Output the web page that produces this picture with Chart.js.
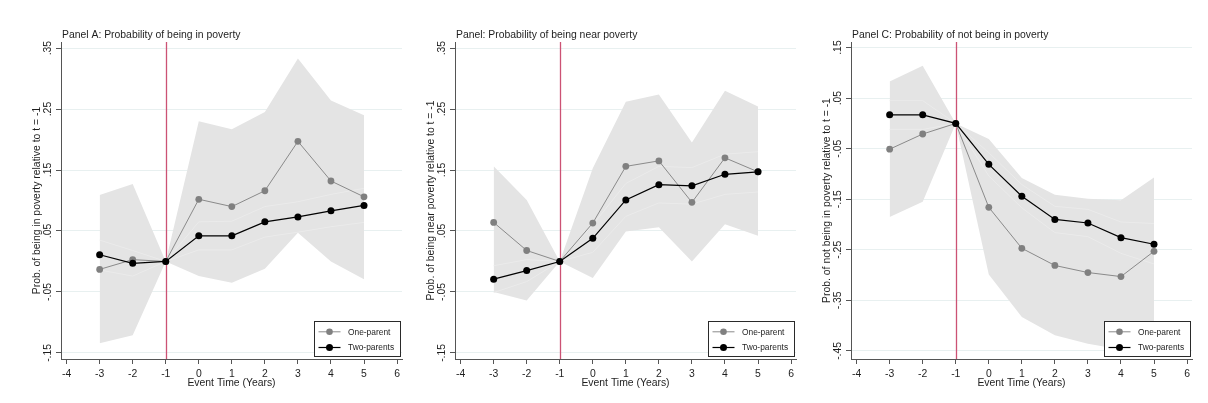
<!DOCTYPE html>
<html>
<head>
<meta charset="utf-8">
<script src="https://cdn.jsdelivr.net/npm/chart.js@4/dist/chart.umd.min.js"></script>
<style>
html, body { margin: 0; padding: 0; background: #fff; }
#wrap { position: relative; width: 1208px; height: 403px; overflow: hidden; background: #fff; }
#wrap canvas { position: absolute; top: 0; }
</style>
</head>
<body>
<div id="wrap">
  <canvas id="pA" width="405" height="403" style="left:1px"></canvas>
  <canvas id="pB" width="405" height="403" style="left:395px"></canvas>
  <canvas id="pC" width="405" height="403" style="left:791px"></canvas>
</div>
<script>
// Event time (years relative to the separation) and axis ticks
const eventTime = [-3, -2, -1, 0, 1, 2, 3, 4, 5];
const xTicks = [-4, -3, -2, -1, 0, 1, 2, 3, 4, 5, 6];
const refEvent = -1;
const seriesNames = ['One-parent', 'Two-parents'];

// Panel A: probability of being in poverty
const onePoorA = [-0.013, 0.003, 0, 0.102, 0.090, 0.116, 0.197, 0.132, 0.106];
const twoPoorA = [0.011, -0.003, 0, 0.042, 0.042, 0.065, 0.073, 0.083, 0.092];
const oneHiA = [0.109, 0.127, 0, 0.230, 0.217, 0.245, 0.333, 0.264, 0.240];
const oneLoA = [-0.134, -0.121, 0, -0.024, -0.035, -0.012, 0.047, 0.000, -0.029];
const twoHiA = [0.035, 0.018, 0, 0.065, 0.066, 0.090, 0.098, 0.110, 0.120];
const twoLoA = [-0.014, -0.024, 0, 0.019, 0.019, 0.040, 0.048, 0.057, 0.064];
const yTicksA = [-0.15, -0.05, 0.05, 0.15, 0.25, 0.35];

// Panel B: probability of being near poverty
const oneNearB = [0.064, 0.018, 0, 0.063, 0.156, 0.165, 0.097, 0.170, 0.147];
const twoNearB = [-0.029, -0.015, 0, 0.038, 0.101, 0.126, 0.124, 0.143, 0.147];
const oneHiB = [0.156, 0.101, 0, 0.153, 0.262, 0.274, 0.195, 0.280, 0.254];
const oneLoB = [-0.050, -0.064, 0, -0.027, 0.049, 0.056, 0.000, 0.061, 0.042];
const twoHiB = [-0.007, 0.003, 0, 0.060, 0.128, 0.156, 0.154, 0.176, 0.180];
const twoLoB = [-0.051, -0.033, 0, 0.015, 0.074, 0.096, 0.094, 0.110, 0.114];
const yTicksB = [-0.15, -0.05, 0.05, 0.15, 0.25, 0.35];

// Panel C: probability of not being in poverty
const oneNotC = [-0.051, -0.021, 0, -0.166, -0.247, -0.281, -0.295, -0.303, -0.253];
const twoNotC = [0.017, 0.017, 0, -0.081, -0.144, -0.190, -0.197, -0.226, -0.239];
const oneHiC = [0.083, 0.114, 0, -0.031, -0.108, -0.141, -0.149, -0.152, -0.107];
const oneLoC = [-0.185, -0.155, 0, -0.299, -0.383, -0.419, -0.436, -0.447, -0.450];
const twoHiC = [0.045, 0.045, 0, -0.058, -0.121, -0.164, -0.170, -0.195, -0.198];
const twoLoC = [-0.012, -0.012, 0, -0.104, -0.167, -0.216, -0.224, -0.257, -0.278];
const yTicksC = [-0.45, -0.35, -0.25, -0.15, -0.05, 0.05, 0.15];

const FONT = "'Liberation Sans', Arial, Helvetica, sans-serif";
const TEXT = '#1e1e1e';
const AXIS = '#555555';
const GRID = '#e8f0f0';
const BAND = '#e4e4e4';
const BAND_EDGE = '#ebebeb';
const GRAY_LINE = '#8a8a8a';
const GRAY_DOT = '#808080';
const REF_LINE = '#cc5274';

// Stata-style tick text: ".35", "-.15"
function fmtTick(v) {
  const a = Math.abs(v).toFixed(2).replace(/^0/, '');
  return (v < 0 ? '-' : '') + a;
}

const panelDecor = {
  id: 'panelDecor',
  beforeDatasetsDraw(chart) {
    const { ctx, chartArea, scales: { x } } = chart;
    const px = Math.round(x.getPixelForValue(refEvent)) + 0.5;
    ctx.save();
    ctx.strokeStyle = REF_LINE;
    ctx.lineWidth = 1.3;
    ctx.beginPath();
    ctx.moveTo(px, chartArea.top);
    ctx.lineTo(px, chartArea.bottom);
    ctx.stroke();
    ctx.restore();
  },
  afterDraw(chart, args, opts) {
    const { ctx, chartArea } = chart;
    ctx.save();
    // panel heading
    ctx.fillStyle = TEXT;
    ctx.font = '10.4px ' + FONT;
    ctx.textAlign = 'left';
    ctx.textBaseline = 'alphabetic';
    ctx.fillText(opts.heading, chartArea.left + 1, 37.5);

    // legend box in the lower-right corner
    const bw = 86, bh = 35;
    const bx = Math.round(chartArea.right - 2 - bw) + 0.5;
    const by = Math.round(chartArea.bottom - 3 - bh) + 0.5;
    ctx.fillStyle = '#ffffff';
    ctx.fillRect(bx, by, bw, bh);
    ctx.strokeStyle = '#2a2a2a';
    ctx.lineWidth = 1;
    ctx.strokeRect(bx, by, bw, bh);
    const rows = [
      { name: seriesNames[0], line: GRAY_LINE, dot: GRAY_DOT, lw: 1, r: 3.3 },
      { name: seriesNames[1], line: '#000000', dot: '#000000', lw: 1.2, r: 3.5 }
    ];
    rows.forEach((row, i) => {
      const yy = by + 10.3 + i * 15.7;
      ctx.strokeStyle = row.line;
      ctx.lineWidth = row.lw;
      ctx.beginPath();
      ctx.moveTo(bx + 4, yy);
      ctx.lineTo(bx + 26, yy);
      ctx.stroke();
      ctx.fillStyle = row.dot;
      ctx.beginPath();
      ctx.arc(bx + 15, yy, row.r, 0, Math.PI * 2);
      ctx.fill();
      ctx.fillStyle = TEXT;
      ctx.font = '8.4px ' + FONT;
      ctx.textBaseline = 'middle';
      ctx.fillText(row.name, bx + 33.5, yy + 0.5);
    });
    ctx.restore();
  }
};

function makePanel(id, cfg) {
  const pts = arr => eventTime.map((t, i) => ({ x: t, y: arr[i] }));
  const datasets = [
    { label: seriesNames[1], data: pts(cfg.two), order: 0,
      borderColor: '#000000', backgroundColor: '#000000', borderWidth: 1.2,
      pointRadius: 3.5, pointBorderWidth: 0, pointBorderColor: '#000000', fill: false },
    { label: seriesNames[0], data: pts(cfg.one), order: 1,
      borderColor: GRAY_LINE, backgroundColor: GRAY_DOT, borderWidth: 1,
      pointRadius: 3.4, pointBorderWidth: 0, pointBorderColor: GRAY_DOT, fill: false },
    { data: pts(cfg.twoHi), order: 2, borderColor: BAND_EDGE, borderWidth: 1,
      pointRadius: 0, fill: false },
    { data: pts(cfg.twoLo), order: 2, borderColor: BAND_EDGE, borderWidth: 1,
      pointRadius: 0, fill: false },
    { data: pts(cfg.oneHi), order: 3, borderColor: 'rgba(0,0,0,0)', borderWidth: 0,
      backgroundColor: BAND, pointRadius: 0, fill: '+1' },
    { data: pts(cfg.oneLo), order: 3, borderColor: 'rgba(0,0,0,0)', borderWidth: 0,
      pointRadius: 0, fill: false }
  ];

  new Chart(document.getElementById(id), {
    type: 'line',
    data: { datasets },
    plugins: [panelDecor],
    options: {
      responsive: false,
      animation: false,
      devicePixelRatio: 1,
      events: [],
      elements: { line: { tension: 0 } },
      layout: { padding: { top: 42, right: 4, bottom: 0, left: 0 } },
      plugins: {
        legend: { display: false },
        tooltip: { enabled: false },
        title: { display: false },
        panelDecor: { heading: cfg.heading }
      },
      scales: {
        x: {
          type: 'linear',
          min: -4.17,
          max: 6.15,
          afterBuildTicks: s => { s.ticks = xTicks.map(v => ({ value: v })); },
          afterFit: s => { s.height = 44; },
          grid: { display: true, drawOnChartArea: false, drawTicks: true, tickLength: 5, tickColor: AXIS },
          border: { display: true, color: AXIS, width: 1 },
          ticks: { autoSkip: false, minRotation: 0, maxRotation: 0, padding: 3.5,
                   color: TEXT, font: { family: FONT, size: 10.4 }, callback: v => String(v) },
          title: { display: true, text: 'Event Time (Years)', color: TEXT,
                   font: { family: FONT, size: 10.4 }, padding: { top: 0, bottom: 14 } }
        },
        y: {
          type: 'linear',
          min: cfg.yMin,
          max: cfg.yMax,
          afterBuildTicks: s => { s.ticks = cfg.yTicks.map(v => ({ value: v })); },
          afterFit: s => { s.width = 60; },
          grid: { display: true, drawOnChartArea: true, drawTicks: true, tickLength: 5,
                  color: GRID, tickColor: AXIS, lineWidth: 1 },
          border: { display: true, color: AXIS, width: 1 },
          ticks: { autoSkip: false, minRotation: 90, maxRotation: 90, crossAlign: 'center',
                   padding: -1.5, color: TEXT, font: { family: FONT, size: 10.4 },
                   callback: v => fmtTick(v) },
          title: { display: true, text: cfg.yTitle, color: TEXT,
                   font: { family: FONT, size: 10.4 }, padding: { top: 29.8, bottom: 0 } }
        }
      }
    }
  });
}

makePanel('pA', {
  heading: 'Panel A: Probability of being in poverty',
  yTitle: 'Prob. of being in poverty relative to t = -1',
  one: onePoorA, two: twoPoorA, oneHi: oneHiA, oneLo: oneLoA, twoHi: twoHiA, twoLo: twoLoA,
  yTicks: yTicksA, yMin: -0.16, yMax: 0.36
});
makePanel('pB', {
  heading: 'Panel: Probability of being near poverty',
  yTitle: 'Prob. of being near poverty relative to t = -1',
  one: oneNearB, two: twoNearB, oneHi: oneHiB, oneLo: oneLoB, twoHi: twoHiB, twoLo: twoLoB,
  yTicks: yTicksB, yMin: -0.16, yMax: 0.36
});
makePanel('pC', {
  heading: 'Panel C: Probability of not being in poverty',
  yTitle: 'Prob. of not being in poverty relative to t = -1',
  one: oneNotC, two: twoNotC, oneHi: oneHiC, oneLo: oneLoC, twoHi: twoHiC, twoLo: twoLoC,
  yTicks: yTicksC, yMin: -0.466, yMax: 0.161
});
</script>
</body>
</html>
